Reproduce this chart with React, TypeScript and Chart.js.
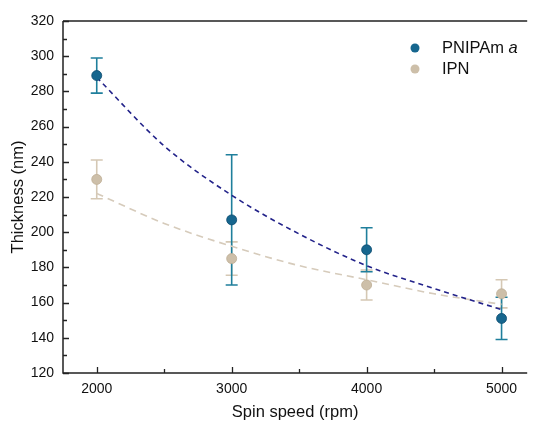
import React, { useEffect, useRef } from "react";
import { Chart, registerables } from "chart.js";

Chart.register(...registerables);

const speeds = [2000, 3000, 4000, 5000];
const pnipamThickness = [289, 207, 190, 151];
const pnipamError = [10, 37, 12.5, 12];
const ipnThickness = [230, 185, 170, 165];
const ipnError = [11, 9.5, 8.5, 8];

const fitSpeeds = [2000, 2500, 3000, 3500, 4000, 4500, 5000];
const pnipamFit = [288, 249, 221, 199, 181, 168, 156];
const ipnFit = [222, 205, 192, 181, 173, 165, 159];

const xTicks = [2000, 2500, 3000, 3500, 4000, 4500, 5000];
const yTicks = [120, 130, 140, 150, 160, 170, 180, 190, 200, 210, 220, 230, 240, 250, 260, 270, 280, 290, 300, 310, 320];

const FONT = "'Liberation Sans', Arial, sans-serif";
const PN_POINT = "#16668e";
const PN_ERR = "#1f7f9c";
const IPN_POINT = "#cdbfa9";
const IPN_ERR = "#d5c8b4";

const decorPlugin = {
  id: "decor",
  beforeDatasetsDraw(chart: any) {
    const { ctx, scales } = chart;
    const xs = scales.x;
    const ys = scales.y;
    ctx.save();
    const drawErr = (vals: number[], errs: number[], color: string) => {
      ctx.strokeStyle = color;
      ctx.lineWidth = 1.6;
      vals.forEach((v, i) => {
        const px = xs.getPixelForValue(speeds[i]);
        const top = ys.getPixelForValue(v + errs[i]);
        const bot = ys.getPixelForValue(v - errs[i]);
        ctx.beginPath();
        ctx.moveTo(px, top);
        ctx.lineTo(px, bot);
        ctx.moveTo(px - 6, top);
        ctx.lineTo(px + 6, top);
        ctx.moveTo(px - 6, bot);
        ctx.lineTo(px + 6, bot);
        ctx.stroke();
      });
    };
    drawErr(ipnThickness, ipnError, IPN_ERR);
    drawErr(pnipamThickness, pnipamError, PN_ERR);
    ctx.restore();
  },
  afterDraw(chart: any) {
    const { ctx, chartArea, scales } = chart;
    const xs = scales.x;
    const ys = scales.y;
    ctx.save();
    ctx.strokeStyle = "#222";
    ctx.lineWidth = 1.5;
    ctx.beginPath();
    ctx.moveTo(chartArea.left, chartArea.top);
    ctx.lineTo(chartArea.left, chartArea.bottom);
    ctx.lineTo(chartArea.right, chartArea.bottom);
    ctx.moveTo(chartArea.left, chartArea.top);
    ctx.lineTo(chartArea.right, chartArea.top);
    ctx.stroke();
    ctx.lineWidth = 1.3;
    ctx.beginPath();
    xTicks.forEach((v) => {
      const px = Math.round(xs.getPixelForValue(v)) + 0.5;
      const len = v % 1000 === 0 ? 6 : 4;
      ctx.moveTo(px, chartArea.bottom);
      ctx.lineTo(px, chartArea.bottom - len);
    });
    yTicks.forEach((v) => {
      const py = Math.round(ys.getPixelForValue(v)) + 0.5;
      const len = v % 20 === 0 ? 6 : 4;
      ctx.moveTo(chartArea.left, py);
      ctx.lineTo(chartArea.left + len, py);
    });
    ctx.stroke();
    const lx = 415;
    const items = [
      { y: 48, color: PN_POINT, label: "PNIPAm", italic: "a" },
      { y: 69, color: IPN_POINT, label: "IPN", italic: "" },
    ];
    items.forEach((it) => {
      ctx.fillStyle = it.color;
      ctx.beginPath();
      ctx.arc(lx, it.y, 4.5, 0, Math.PI * 2);
      ctx.fill();
      ctx.fillStyle = "#111";
      ctx.textBaseline = "middle";
      ctx.textAlign = "left";
      ctx.font = `16.5px ${FONT}`;
      ctx.fillText(it.label, 442, it.y);
      if (it.italic) {
        const w = ctx.measureText(it.label + " ").width;
        ctx.font = `italic 16.5px ${FONT}`;
        ctx.fillText(it.italic, 442 + w, it.y);
      }
    });
    ctx.restore();
  },
};

export default function App() {
  const ref = useRef<HTMLCanvasElement | null>(null);
  useEffect(() => {
    if (!ref.current) return;
    const chart = new Chart(ref.current, {
      type: "scatter",
      data: {
        datasets: [
          {
            type: "line",
            label: "PNIPAm fit",
            data: fitSpeeds.map((x, i) => ({ x, y: pnipamFit[i] })),
            borderColor: "#23238a",
            borderWidth: 1.6,
            borderDash: [5, 4],
            pointRadius: 0,
            cubicInterpolationMode: "monotone",
            fill: false,
            order: 1,
          } as any,
          {
            type: "line",
            label: "IPN fit",
            data: fitSpeeds.map((x, i) => ({ x, y: ipnFit[i] })),
            borderColor: "#d6cbbb",
            borderWidth: 1.6,
            borderDash: [7, 5],
            pointRadius: 0,
            cubicInterpolationMode: "monotone",
            fill: false,
            order: 1,
          } as any,
          {
            label: "IPN",
            data: speeds.map((x, i) => ({ x, y: ipnThickness[i] })),
            backgroundColor: IPN_POINT,
            borderColor: "#bfae95",
            borderWidth: 0.8,
            pointRadius: 5,
            order: 0,
          },
          {
            label: "PNIPAm a",
            data: speeds.map((x, i) => ({ x, y: pnipamThickness[i] })),
            backgroundColor: PN_POINT,
            borderColor: "#0b4a6e",
            borderWidth: 0.8,
            pointRadius: 5,
            order: 0,
          },
        ],
      },
      options: {
        responsive: false,
        animation: false,
        layout: { padding: { top: 21, right: 0, left: 0, bottom: 0 } },
        plugins: {
          legend: { display: false },
          tooltip: { enabled: false },
        },
        scales: {
          x: {
            type: "linear",
            min: 1750,
            max: 5190,
            grid: { display: false, drawTicks: false },
            border: { display: false },
            afterBuildTicks: (s: any) => {
              s.ticks = xTicks.map((v) => ({ value: v }));
            },
            afterFit: (s: any) => {
              s.height = 48;
            },
            ticks: {
              autoSkip: false,
              maxRotation: 0,
              padding: 8,
              color: "#111",
              font: { family: FONT, size: 14 },
              callback: (v: any) => (v % 1000 === 0 ? String(v) : ""),
            },
            title: {
              display: true,
              text: "Spin speed (rpm)",
              color: "#111",
              font: { family: FONT, size: 16.5, lineHeight: 1.0 },
              padding: { top: 0, bottom: 0 },
            },
          },
          y: {
            min: 120,
            max: 320,
            grid: { display: false, drawTicks: false },
            border: { display: false },
            afterBuildTicks: (s: any) => {
              s.ticks = yTicks.map((v) => ({ value: v }));
            },
            afterFit: (s: any) => {
              s.width = 63;
            },
            ticks: {
              autoSkip: false,
              padding: 9,
              color: "#111",
              font: { family: FONT, size: 14 },
              callback: (v: any) => (v % 20 === 0 ? String(v) : ""),
            },
            title: {
              display: true,
              text: "Thickness (nm)",
              color: "#111",
              font: { family: FONT, size: 16.5 },
              padding: { top: 9, bottom: 0 },
            },
          },
        },
      },
      plugins: [decorPlugin],
    });
    return () => chart.destroy();
  }, []);
  return (
    <div style={{ position: "fixed", left: 0, top: 0, width: 533, height: 421, background: "#fff" }}>
      <canvas ref={ref} width={533} height={421} style={{ display: "block" }} />
    </div>
  );
}
